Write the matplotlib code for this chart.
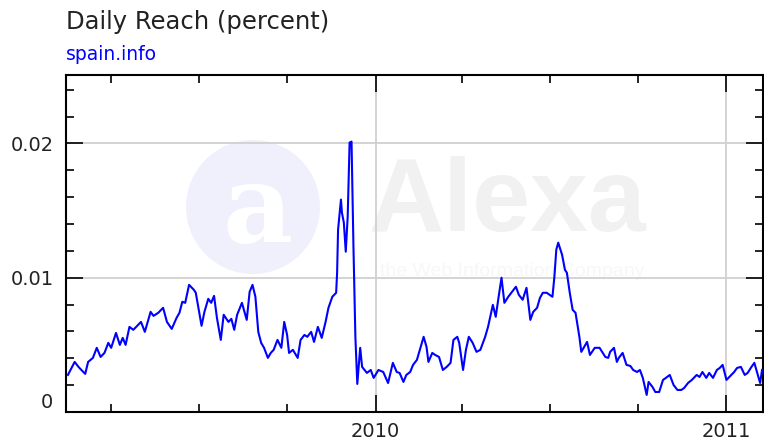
import matplotlib
matplotlib.use("Agg")
import matplotlib.pyplot as plt
import matplotlib.dates as mdates
from matplotlib.patches import Circle
import pandas as pd

# Daily reach of spain.info (percent)
dates_2009 = [
    "2009-02-15", "2009-02-22", "2009-02-26", "2009-03-01", "2009-03-05", "2009-03-08",
    "2009-03-13", "2009-03-17", "2009-03-21", "2009-03-25", "2009-03-29", "2009-04-01",
    "2009-04-06", "2009-04-10", "2009-04-13", "2009-04-16", "2009-04-20", "2009-04-24",
    "2009-04-27", "2009-05-02", "2009-05-06", "2009-05-12", "2009-05-15", "2009-05-20",
    "2009-05-25", "2009-05-29", "2009-06-03", "2009-06-08", "2009-06-11", "2009-06-14",
    "2009-06-17", "2009-06-21", "2009-06-26", "2009-06-28", "2009-07-02", "2009-07-04",
    "2009-07-07", "2009-07-11", "2009-07-14", "2009-07-17", "2009-07-20", "2009-07-24",
    "2009-07-27", "2009-08-01", "2009-08-04", "2009-08-07", "2009-08-10", "2009-08-15",
    "2009-08-17", "2009-08-20", "2009-08-23", "2009-08-26", "2009-08-29", "2009-09-01",
    "2009-09-04", "2009-09-07", "2009-09-11", "2009-09-14", "2009-09-17", "2009-09-21",
    "2009-09-25", "2009-09-28", "2009-10-01", "2009-10-03", "2009-10-07", "2009-10-12",
    "2009-10-15", "2009-10-19", "2009-10-22", "2009-10-26", "2009-10-29", "2009-11-02",
    "2009-11-06", "2009-11-10", "2009-11-13", "2009-11-17", "2009-11-21", "2009-11-22",
    "2009-11-23", "2009-11-26", "2009-11-27", "2009-11-29", "2009-12-01", "2009-12-03",
    "2009-12-05", "2009-12-07", "2009-12-09", "2009-12-11", "2009-12-13", "2009-12-16",
    "2009-12-18", "2009-12-23", "2009-12-27", "2009-12-30",
]
reach_2009 = [
    2.76, 3.73, 3.36, 3.13, 2.84, 3.73, 4.03, 4.78, 4.10, 4.40, 5.15, 4.78,
    5.89, 5.00, 5.52, 5.00, 6.34, 6.12, 6.34, 6.71, 5.97, 7.46, 7.16, 7.39,
    7.76, 6.71, 6.19, 7.01, 7.39, 8.21, 8.13, 9.47, 9.10, 8.88, 7.24, 6.42,
    7.46, 8.43, 8.13, 8.65, 7.01, 5.37, 7.24, 6.71, 6.94, 6.12, 7.24, 8.13,
    7.61, 6.86, 8.95, 9.47, 8.58, 5.97, 5.15, 4.78, 4.03, 4.40, 4.63, 5.37,
    4.78, 6.71, 5.74, 4.40, 4.63, 4.03, 5.37, 5.74, 5.60, 5.97, 5.22, 6.34,
    5.52, 6.71, 7.76, 8.58, 8.88, 10.37, 13.58, 15.82, 14.85, 14.10, 11.94, 14.55,
    20.07, 20.14, 12.31, 5.60, 2.09, 4.78, 3.36, 2.91, 3.13, 2.54,
]

dates_2010 = [
    "2010-01-04", "2010-01-09", "2010-01-14", "2010-01-19", "2010-01-23", "2010-01-26",
    "2010-01-30", "2010-02-02", "2010-02-06", "2010-02-09", "2010-02-13", "2010-02-17",
    "2010-02-20", "2010-02-23", "2010-02-25", "2010-03-01", "2010-03-04", "2010-03-08",
    "2010-03-12", "2010-03-16", "2010-03-20", "2010-03-23", "2010-03-27", "2010-03-29",
    "2010-04-02", "2010-04-05", "2010-04-08", "2010-04-12", "2010-04-16", "2010-04-20",
    "2010-04-25", "2010-04-28", "2010-05-03", "2010-05-06", "2010-05-09", "2010-05-12",
    "2010-05-15", "2010-05-19", "2010-05-23", "2010-05-27", "2010-05-30", "2010-06-03",
    "2010-06-07", "2010-06-11", "2010-06-14", "2010-06-18", "2010-06-21", "2010-06-24",
    "2010-06-28", "2010-07-01", "2010-07-04", "2010-07-06", "2010-07-08", "2010-07-10",
    "2010-07-14", "2010-07-17", "2010-07-19", "2010-07-22", "2010-07-25", "2010-07-28",
    "2010-08-01", "2010-08-03", "2010-08-09", "2010-08-12", "2010-08-17", "2010-08-22",
    "2010-08-28", "2010-08-31", "2010-09-02", "2010-09-06", "2010-09-09", "2010-09-11",
    "2010-09-15", "2010-09-19", "2010-09-23", "2010-09-26", "2010-09-30", "2010-10-03",
    "2010-10-06", "2010-10-10", "2010-10-12", "2010-10-16", "2010-10-19", "2010-10-23",
    "2010-10-27", "2010-10-30", "2010-11-03", "2010-11-07", "2010-11-11", "2010-11-15",
    "2010-11-18", "2010-11-22", "2010-11-26", "2010-12-01", "2010-12-04", "2010-12-07",
    "2010-12-11", "2010-12-14", "2010-12-18", "2010-12-22", "2010-12-25", "2010-12-28",
]
reach_2010 = [
    3.13, 2.98, 2.16, 3.66, 2.98, 2.91, 2.24, 2.76, 2.98, 3.51, 3.88, 4.85,
    5.60, 4.85, 3.73, 4.40, 4.25, 4.10, 3.13, 3.36, 3.66, 5.37, 5.60, 5.15,
    3.13, 4.63, 5.60, 5.15, 4.48, 4.63, 5.60, 6.34, 7.98, 7.09, 8.58, 10.00,
    8.13, 8.58, 8.95, 9.33, 8.73, 8.36, 9.25, 6.86, 7.46, 7.76, 8.50, 8.88,
    8.88, 8.73, 8.58, 10.07, 12.09, 12.61, 11.71, 10.59, 10.37, 8.88, 7.61, 7.39,
    5.60, 4.48, 5.22, 4.25, 4.78, 4.78, 4.10, 4.03, 4.48, 4.78, 3.73, 4.03,
    4.40, 3.51, 3.43, 3.13, 2.98, 3.13, 2.54, 1.27, 2.24, 1.87, 1.49, 1.49,
    2.39, 2.54, 2.76, 2.01, 1.64, 1.64, 1.79, 2.16, 2.39, 2.76, 2.61, 2.98,
    2.54, 2.91, 2.54, 3.13, 3.28, 3.51,
]

dates_2011 = [
    "2011-01-01", "2011-01-06", "2011-01-09", "2011-01-12", "2011-01-16", "2011-01-20",
    "2011-01-23", "2011-01-27", "2011-01-30", "2011-02-02", "2011-02-05", "2011-02-07",
]
reach_2011 = [2.39, 2.76, 2.98, 3.28, 3.36, 2.76, 2.91, 3.36, 3.66, 2.91, 2.16, 3.13]

dates = pd.to_datetime(dates_2009 + dates_2010 + dates_2011)
reach = [v / 1000 for v in reach_2009 + reach_2010 + reach_2011]

fig = plt.figure(figsize=(7.64, 4.41), dpi=100)
ax = fig.add_axes([66 / 764, 29 / 441, 697 / 764, 337 / 441])

# faint Alexa watermark behind everything (pixel coords of the plot area)
wm = fig.add_axes(ax.get_position(), zorder=-1)
wm.set_xlim(66, 763)
wm.set_ylim(412, 75)
wm.axis("off")
wm.add_patch(Circle((253, 207), 67, color="#f0f0fc", lw=0))
wm.text(258, 212, "a", fontsize=78, color="white", family="DejaVu Serif",
        weight="bold", ha="center", va="center")
wm.text(507, 204, "Alexa", fontsize=75, color="#f1f1f1", family="Liberation Sans",
        weight="bold", ha="center", va="center")
wm.text(512, 272, "the Web Information Company", fontsize=14, color="#f7f7f7",
        family="Liberation Sans", ha="center", va="center")
ax.patch.set_alpha(0)

ax.plot(dates, reach, color="#0000ff", lw=1.5, zorder=3)

ax.set_xlim(pd.Timestamp("2009-02-13"), pd.Timestamp("2011-02-08"))
ax.set_ylim(0, 0.0251)

ax.xaxis.set_major_locator(mdates.YearLocator())
ax.xaxis.set_major_formatter(mdates.DateFormatter("%Y"))
ax.xaxis.set_minor_locator(mdates.MonthLocator(bymonth=[1, 4, 7, 10]))
ax.set_yticks([0, 0.01, 0.02])
ax.set_yticklabels(["0", "0.01", "0.02"])
ax.set_yticks([0.002 * i for i in range(13)], minor=True)

ax.grid(True, which="major", color="#d0d0d0", lw=1.3, zorder=1)
ax.tick_params(which="both", direction="in", top=True, right=True, color="black",
               width=1.2, labelsize=14, labelcolor="#222222")
ax.tick_params(which="major", length=12)
ax.tick_params(which="minor", length=6)
ax.tick_params(axis="y", pad=9)
ax.tick_params(axis="x", pad=7)
ax.yaxis.get_major_ticks()[0].label1.set_verticalalignment("bottom")
for s in ax.spines.values():
    s.set_linewidth(1.5)
    s.set_color("black")

fig.text(66 / 764, 1 - 22 / 441, "Daily Reach (percent)", fontsize=17.5,
         color="#222222", va="center", ha="left")
fig.text(66 / 764, 1 - 55 / 441, "spain.info", fontsize=13.5,
         color="#0000ff", va="center", ha="left")

fig.savefig("out.png", dpi=100)
